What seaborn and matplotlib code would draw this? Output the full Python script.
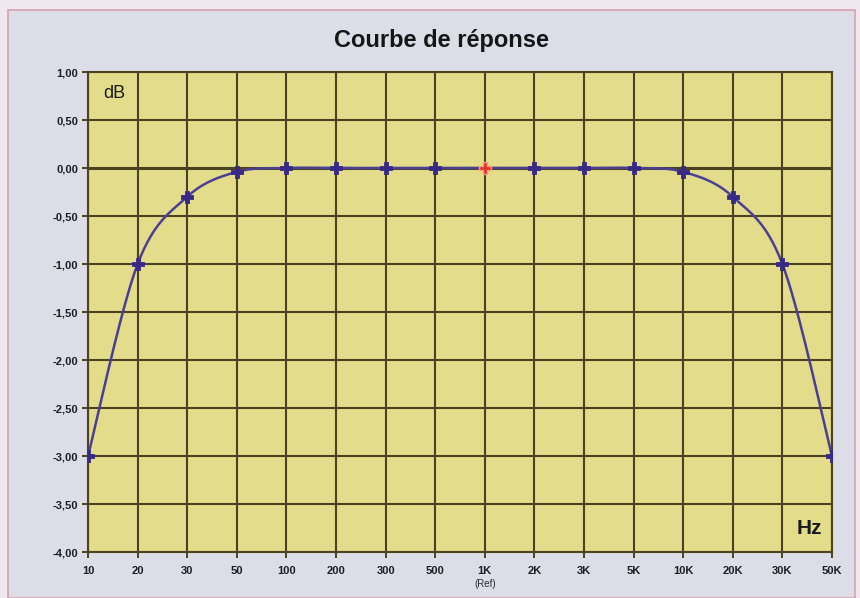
import numpy as np
import pandas as pd
import matplotlib
matplotlib.use("Agg")
import matplotlib.pyplot as plt
from matplotlib.patches import Rectangle
import seaborn as sns

# Frequency points and measured level relative to 1 kHz
freq_labels = ["10", "20", "30", "50", "100", "200", "300", "500", "1K",
               "2K", "3K", "5K", "10K", "20K", "30K", "50K"]
level_db = [-3.00, -1.00, -0.30, -0.04, 0.00, 0.00, 0.00, 0.00, 0.00,
            0.00, 0.00, 0.00, -0.04, -0.30, -1.00, -3.00]
ref_label = "1K"
y_ticks = [1.0, 0.5, 0.0, -0.5, -1.0, -1.5, -2.0, -2.5, -3.0, -3.5, -4.0]

sns.set_theme(style="white")
plt.rcParams["font.family"] = ["Liberation Sans", "DejaVu Sans"]

GRID = "#4a4220"
LINE = "#4b3f94"
MARK = "#372a86"
FACE = "#e2dc8b"
FIG_OUT = "#efe8ee"
FIG_IN = "#dcdde6"


def smooth_curve(x, y, steps=30):
    """Catmull-Rom style Bezier through the points (spreadsheet 'smoothed line')."""
    x = np.asarray(x, float)
    y = np.asarray(y, float)
    n = len(x)
    xs, ys = [], []
    for i in range(n - 1):
        p0 = (x[max(i - 1, 0)], y[max(i - 1, 0)])
        p1 = (x[i], y[i])
        p2 = (x[i + 1], y[i + 1])
        p3 = (x[min(i + 2, n - 1)], y[min(i + 2, n - 1)])
        c1 = (p1[0] + (p2[0] - p0[0]) / 6, p1[1] + (p2[1] - p0[1]) / 6)
        c2 = (p2[0] - (p3[0] - p1[0]) / 6, p2[1] - (p3[1] - p1[1]) / 6)
        t = np.linspace(0, 1, steps, endpoint=(i == n - 2))
        b0 = (1 - t) ** 3
        b1 = 3 * (1 - t) ** 2 * t
        b2 = 3 * (1 - t) * t ** 2
        b3 = t ** 3
        xs.append(b0 * p1[0] + b1 * c1[0] + b2 * c2[0] + b3 * p2[0])
        ys.append(b0 * p1[1] + b1 * c1[1] + b2 * c2[1] + b3 * p2[1])
    return np.concatenate(xs), np.concatenate(ys)


pos = np.arange(len(freq_labels))
df = pd.DataFrame({"pos": pos, "freq": freq_labels, "db": level_db})
sx, sy = smooth_curve(df["pos"], df["db"])
curve = pd.DataFrame({"pos": sx, "db": sy})

fig = plt.figure(figsize=(8.6, 5.98), dpi=100, facecolor=FIG_OUT)
fig.patches.append(Rectangle((8 / 860, 0), 847 / 860, 1 - 10 / 598,
                             transform=fig.transFigure, facecolor=FIG_IN,
                             edgecolor="#d9a0ab", linewidth=1.2, zorder=-1))

ax = fig.add_axes([88 / 860, 46 / 598, 744 / 860, 480 / 598])
ax.set_facecolor(FACE)

sns.lineplot(data=curve, x="pos", y="db", ax=ax, color=LINE, linewidth=1.8,
             sort=False, estimator=None, zorder=3)
normal = df[df["freq"] != ref_label]
ref = df[df["freq"] == ref_label]
sns.scatterplot(data=normal, x="pos", y="db", ax=ax, marker="P", s=80,
                color=MARK, edgecolor=MARK, linewidth=0.6, zorder=4)
sns.scatterplot(data=ref, x="pos", y="db", ax=ax, marker="P", s=80,
                color="#e8302a", edgecolor="#f3a07a", linewidth=1.0, zorder=4)

ax.set_xlim(pos[0], pos[-1])
ax.set_ylim(-4.0, 1.0)
ax.set_xticks(pos)
ax.set_xticklabels(freq_labels)
ax.set_yticks(y_ticks)
ax.set_yticklabels([f"{v:.2f}".replace(".", ",") for v in y_ticks])
ax.set_xlabel("")
ax.set_ylabel("")

for v in y_ticks:
    ax.axhline(v, color=GRID, linewidth=2.2 if v == 0 else 1.5, zorder=1)
for p in pos:
    ax.axvline(p, color=GRID, linewidth=1.5, zorder=1)

for s in ax.spines.values():
    s.set_color(GRID)
    s.set_linewidth(1.5)

ax.tick_params(axis="both", direction="out", length=4, width=1.4, color=GRID,
               labelsize=8, labelcolor="#1e1e22", pad=3, bottom=True, left=True)
ax.tick_params(axis="x", pad=6)
for lbl in ax.get_xticklabels() + ax.get_yticklabels():
    lbl.set_fontweight("bold")

# "(Ref)" note under the reference frequency label
ax.annotate("(Ref)", xy=(pos[freq_labels.index(ref_label)], -4.0),
            xycoords="data", xytext=(0, -23), textcoords="offset points",
            ha="center", va="center", fontsize=7, color="#2a2a30")

ax.text(0.035, 0.955, "dB", transform=ax.transAxes, ha="center", va="center",
        fontsize=13, color="#1a1a1a")
ax.text(0.97, 0.05, "Hz", transform=ax.transAxes, ha="center", va="center",
        fontsize=15, fontweight="bold", color="#1a1a1a")

fig.text(441 / 860, 1 - 40 / 598, "Courbe de réponse", ha="center",
         va="center", fontsize=17, fontweight="bold", color="#161616")

fig.savefig("out.png", dpi=100, facecolor=FIG_OUT)
